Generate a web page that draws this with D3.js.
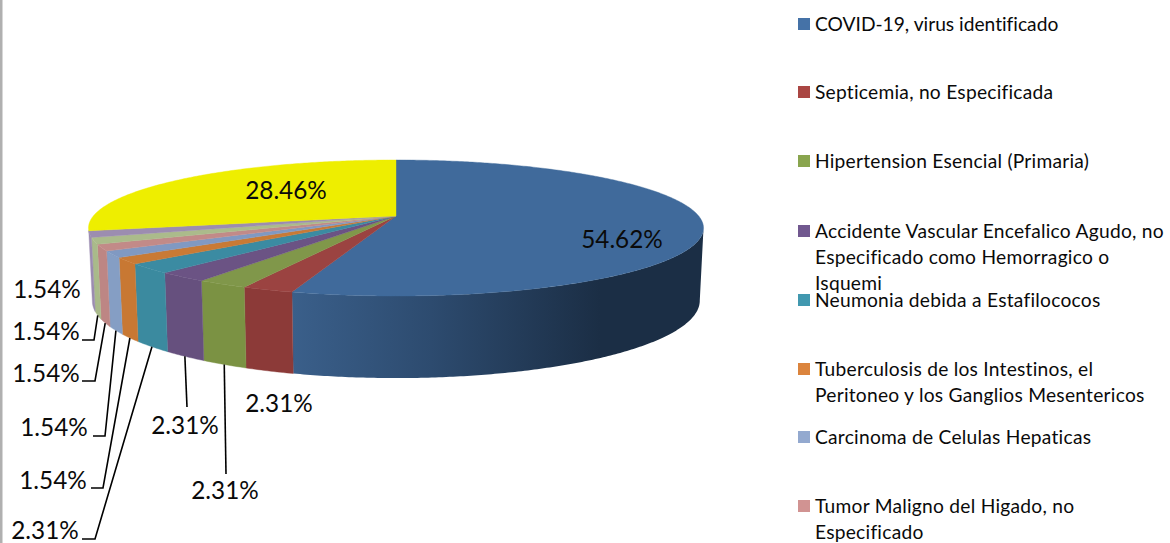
<!DOCTYPE html>
<html><head><meta charset="utf-8">
<script src="https://cdn.jsdelivr.net/npm/d3@7"></script>
<style>html,body{margin:0;padding:0;background:#fff;overflow:hidden}svg{display:block}text{font-family:Lato,sans-serif;fill:#0a0a0a;font-variant-ligatures:none}</style>
</head><body><svg id="c" width="1170" height="543"></svg>
<script>
// ---- data
const sliceValues=[54.62,2.31,2.31,2.31,2.31,1.54,1.54,1.54,1.54,1.54,28.46];
const sliceLabels=["54.62%","2.31%","2.31%","2.31%","2.31%","1.54%","1.54%","1.54%","1.54%","1.54%","28.46%"];
const legendNames=[
 ["COVID-19, virus identificado"],
 ["Septicemia, no Especificada"],
 ["Hipertension Esencial (Primaria)"],
 ["Accidente Vascular Encefalico Agudo, no","Especificado como Hemorragico o","Isquemi"],
 ["Neumonia debida a Estafilococos"],
 ["Tuberculosis de los Intestinos, el","Peritoneo y los Ganglios Mesentericos"],
 ["Carcinoma de Celulas Hepaticas"],
 ["Tumor Maligno del Higado, no","Especificado"]];
// ---- styles
const topColors=["#406a9b","#9b4341","#80974a","#6b5384","#3b8ba2","#c97a35","#8099c2","#c28a88","#abbb8b","#9c8db0","#eeee00"];
const wallColors=["#3a5f8a","#8c3a38","#7b9243","#66507e","#3b8a9f","#c87833","#859ec4","#bd8684","#a9ba8a","#9b8cb0","#eeee00"];
const legendColors=["#4572a7","#aa4643","#89a54e","#71588f","#4198af","#db843d","#93a9cf","#d19392"];
// ---- layout
const labelPos=[[622,240],[279,404],[225,491],[185,426],[45,531],[53,481],[54,428],[46,374],[46,332],[47,290],[286,191]];
const leaderPath={1:null,2:[[226,474]],3:[[187,407]],4:[[95,539],[82,539]],5:[[103,488],[91,488]],6:[[105,436],[93,436]],7:[[95,381],[82,381]],8:[[94,340],[82,340]]};
const legendY=[24,92,161,231,300,369,437,506];
const cx=396,topY=216,R=302.7,S=65.9,k=0.1765,botR=299,botS=75,botY=287;

const svg=d3.select("#c");
const defs=svg.append("defs");
const grad=defs.append("linearGradient").attr("id","blueWall").attr("gradientUnits","userSpaceOnUse")
 .attr("x1",293).attr("x2",600).attr("y1",0).attr("y2",0);
grad.append("stop").attr("offset",0).attr("stop-color","#3a5f8a");
grad.append("stop").attr("offset",0.45).attr("stop-color","#2d4b6f");
grad.append("stop").attr("offset",1).attr("stop-color","#1b2e45");

svg.append("rect").attr("x",0).attr("y",0).attr("width",2.5).attr("height",543).attr("fill","#b0b0b0");

const arcs=d3.pie().sort(null).startAngle(0).endAngle(2*Math.PI)(sliceValues);
const proj=(a,r,s,y0)=>{const u=Math.sin(a),v=-Math.cos(a),w=1-k*v;return [cx+r*u/w,y0+s*v/w];};
const topPt=a=>proj(a,R,S,topY), botPt=a=>proj(a,botR,botS,botY);
const arcPts=(f,a0,a1)=>{const n=Math.max(2,Math.ceil(Math.abs(a1-a0)/0.01));return d3.range(n+1).map(i=>f(a0+(a1-a0)*i/n));};
const line=d3.line();

// walls: only the near side of the cylinder is visible (rightmost rim point is where v=k)
const wallStart=Math.acos(-k), wallEnd=arcs[9].endAngle;
const walls=svg.append("g");
arcs.forEach((d,i)=>{
  const a0=Math.max(d.startAngle,wallStart),a1=Math.min(d.endAngle,wallEnd);
  if(a1<=a0)return;
  const pts=arcPts(topPt,a0,a1).concat(arcPts(botPt,a0,a1).reverse());
  walls.append("path").attr("d",line(pts)+"Z").attr("fill",i===0?"url(#blueWall)":wallColors[i])
   .attr("stroke",i===0?"none":wallColors[i]).attr("stroke-width",0.4);
});
// top faces
const tops=svg.append("g");
arcs.forEach((d,i)=>{
  const pts=[[cx,topY]].concat(arcPts(topPt,d.startAngle,d.endAngle));
  tops.append("path").attr("d",line(pts)+"Z").attr("fill",topColors[i]).attr("stroke",topColors[i]).attr("stroke-width",0.4);
});
// leaders
const leaders=svg.append("g");
arcs.forEach((d,i)=>{
  const tail=leaderPath[i]; if(!tail)return;
  const start=botPt((d.startAngle+d.endAngle)/2);
  leaders.append("path").attr("d",line([start].concat(tail))).attr("fill","none").attr("stroke","#000").attr("stroke-width",1.6);
});
// labels
svg.append("g").selectAll("text").data(sliceLabels).join("text")
 .attr("x",(d,i)=>labelPos[i][0]).attr("y",(d,i)=>labelPos[i][1]+8)
 .attr("text-anchor","middle").attr("font-size",24.3).text(d=>d);
// legend
const lg=svg.append("g");
legendNames.forEach((lines,i)=>{
  lg.append("rect").attr("x",798).attr("y",legendY[i]-6).attr("width",12).attr("height",12).attr("fill",legendColors[i]);
  lines.forEach((t,j)=>lg.append("text").attr("x",815).attr("y",legendY[i]+7+j*26)
    .attr("font-size",19.2).attr("letter-spacing",i===0?0:0.25).text(t));
});
</script></body></html>
